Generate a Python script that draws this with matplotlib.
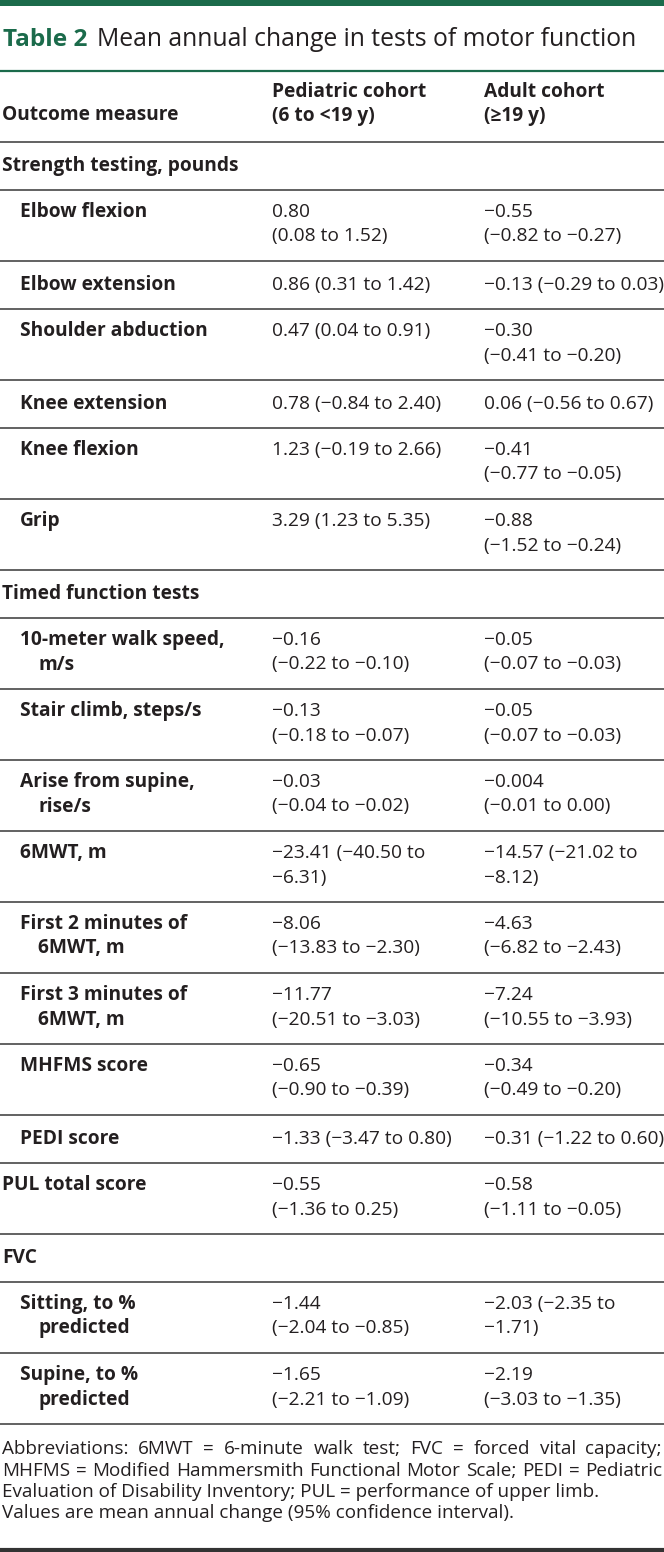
import matplotlib.pyplot as plt

plt.rcParams['font.family'] = ['Open Sans', 'DejaVu Sans']

# table content
measures = ['Strength testing, pounds', 'Elbow flexion', 'Elbow extension', 'Shoulder abduction',
            'Knee extension', 'Knee flexion', 'Grip', 'Timed function tests',
            '10-meter walk speed,\nm/s', 'Stair climb, steps/s', 'Arise from supine,\nrise/s',
            '6MWT, m', 'First 2 minutes of\n6MWT, m', 'First 3 minutes of\n6MWT, m',
            'MHFMS score', 'PEDI score', 'PUL total score', 'FVC',
            'Sitting, to %\npredicted', 'Supine, to %\npredicted']
level = [0, 1, 1, 1, 1, 1, 1, 0, 1, 1, 1, 1, 1, 1, 1, 1, 0, 0, 1, 1]
pediatric = ['', '0.80\n(0.08 to 1.52)', '0.86 (0.31 to 1.42)', '0.47 (0.04 to 0.91)',
             '0.78 (−0.84 to 2.40)', '1.23 (−0.19 to 2.66)', '3.29 (1.23 to 5.35)', '',
             '−0.16\n(−0.22 to −0.10)', '−0.13\n(−0.18 to −0.07)', '−0.03\n(−0.04 to −0.02)',
             '−23.41 (−40.50 to\n−6.31)', '−8.06\n(−13.83 to −2.30)', '−11.77\n(−20.51 to −3.03)',
             '−0.65\n(−0.90 to −0.39)', '−1.33 (−3.47 to 0.80)', '−0.55\n(−1.36 to 0.25)', '',
             '−1.44\n(−2.04 to −0.85)', '−1.65\n(−2.21 to −1.09)']
adult = ['', '−0.55\n(−0.82 to −0.27)', '−0.13 (−0.29 to 0.03)', '−0.30\n(−0.41 to −0.20)',
         '0.06 (−0.56 to 0.67)', '−0.41\n(−0.77 to −0.05)', '−0.88\n(−1.52 to −0.24)', '',
         '−0.05\n(−0.07 to −0.03)', '−0.05\n(−0.07 to −0.03)', '−0.004\n(−0.01 to 0.00)',
         '−14.57 (−21.02 to\n−8.12)', '−4.63\n(−6.82 to −2.43)', '−7.24\n(−10.55 to −3.93)',
         '−0.34\n(−0.49 to −0.20)', '−0.31 (−1.22 to 0.60)', '−0.58\n(−1.11 to −0.05)', '',
         '−2.03 (−2.35 to\n−1.71)', '−2.19\n(−3.03 to −1.35)']

footnote = ['Abbreviations: 6MWT = 6-minute walk test; FVC = forced vital capacity;',
            'MHFMS = Modified Hammersmith Functional Motor Scale; PEDI = Pediatric',
            'Evaluation of Disability Inventory; PUL = performance of upper limb.',
            'Values are mean annual change (95% confidence interval).']

GREEN = '#1b6b4b'
TXT = '#231f20'
RULE = '#555555'
FS = 13.8
FN = 13.6

W, H = 664, 1552
fig = plt.figure(figsize=(W / 100, H / 100), dpi=100)
ax = fig.add_axes([0, 0, 1, 1])
ax.set_xlim(0, W)
ax.set_ylim(H, 0)
ax.axis('off')

# top bar and title
ax.axhspan(0, 6, color=GREEN, lw=0)
ax.text(3, 40, 'Table 2', fontsize=17.6, fontweight='bold', color=GREEN, va='center')
ax.text(97, 40, 'Mean annual change in tests of motor function', fontsize=17.8, color=TXT, va='center')
ax.axhline(71, color=GREEN, lw=1.6)

# header
ax.text(2, 115, 'Outcome measure', fontsize=FS, fontweight='bold', color=TXT, va='center')
for x, head in [(272, 'Pediatric cohort\n(6 to <19 y)'), (484, 'Adult cohort\n(≥19 y)')]:
    for k, ln in enumerate(head.split('\n')):
        ax.text(x, 92 + 23.5 * k, ln, fontsize=FS, fontweight='bold', color=TXT, va='center')
ax.axhline(142, color=RULE, lw=1.3)

col_x = [272, 484]
top = 142
for name, lev, ped, adl in zip(measures, level, pediatric, adult):
    nl = max(len(s.split('\n')) for s in (name, ped, adl))
    h = 48 if nl == 1 else 71
    y0 = top + 24 if nl == 1 else top + 22
    x_lab = 2 if lev == 0 else 20
    for k, ln in enumerate(name.split('\n')):
        ax.text(x_lab + (18 if k else 0), y0 + 24.5 * k, ln, fontsize=FS,
                fontweight='bold', color=TXT, va='center')
    for x, val in zip(col_x, (ped, adl)):
        for k, ln in enumerate(val.split('\n')):
            ax.text(x, y0 + 24.5 * k, ln, fontsize=FS, color=TXT, va='center')
    top += h
    ax.axhline(top, color=RULE, lw=1.3)

# footnote, first two lines justified
fig.canvas.draw()
r = fig.canvas.get_renderer()
fy = [1449, 1470.5, 1492, 1513.5]
for i, ln in enumerate(footnote):
    if i < 2:
        words = ln.split(' ')
        ws = []
        for w in words:
            t = ax.text(0, 0, w, fontsize=FN, color=TXT)
            ws.append(t.get_window_extent(r).width)
            t.remove()
        gap = (662 - 2 - sum(ws)) / (len(words) - 1)
        x = 2
        for w, wd in zip(words, ws):
            ax.text(x, fy[i], w, fontsize=FN, color=TXT, va='center')
            x += wd + gap
    else:
        ax.text(2, fy[i], ln, fontsize=FN, color=TXT, va='center')

ax.axhline(1550, color='#333333', lw=3)

fig.savefig('out.png', dpi=100)
